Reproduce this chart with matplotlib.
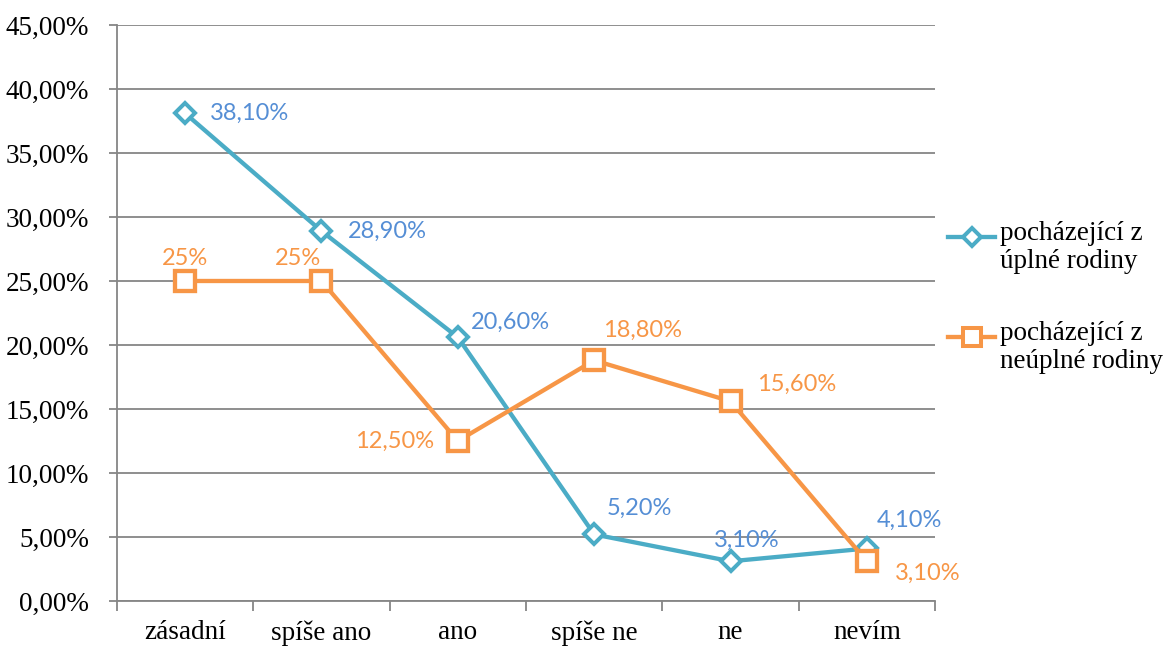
import matplotlib
matplotlib.use("Agg")
import matplotlib.pyplot as plt
from matplotlib.lines import Line2D
from matplotlib.ticker import FuncFormatter, MultipleLocator

categories = ["zásadní", "spíše ano", "ano", "spíše ne", "ne", "nevím"]
uplne = [38.1, 28.9, 20.6, 5.2, 3.1, 4.1]
neuplne = [25.0, 25.0, 12.5, 18.8, 15.6, 3.1]
uplne_labels = ["38,10%", "28,90%", "20,60%", "5,20%", "3,10%", "4,10%"]
neuplne_labels = ["25%", "25%", "12,50%", "18,80%", "15,60%", "3,10%"]
legend_labels = ["pocházející z\núplné rodiny", "pocházející z\nneúplné rodiny"]

blue = "#4BACC6"
orange = "#F79646"
blue_txt = "#558ED5"
grid_c = "#868686"

serif = "Liberation Serif"
sans = "Lato"

fig = plt.figure(figsize=(11.65, 6.46), dpi=100)
ax = fig.add_axes([0.1004, 0.0697, 0.7022, 0.8916])

x = list(range(len(categories)))
ax.plot(x, uplne, color=blue, lw=3.1, marker="D", ms=10, mfc="white",
        mec=blue, mew=2.9, zorder=3)
ax.plot(x, neuplne, color=orange, lw=3.1, marker="s", ms=14, mfc="white",
        mec=orange, mew=3.1, zorder=4)

ax.set_xlim(-0.5, 5.5)
ax.set_ylim(0, 45)
ax.yaxis.set_major_locator(MultipleLocator(5))
ax.yaxis.set_major_formatter(FuncFormatter(lambda v, p: f"{v:.2f}".replace(".", ",") + "%"))
ax.grid(axis="y", color=grid_c, lw=1.3)
ax.set_axisbelow(True)

ax.set_xticks([i - 0.5 for i in range(len(categories) + 1)])
ax.set_xticklabels([])
ax.set_xticks(x, minor=True)
ax.set_xticklabels(categories, minor=True, fontfamily=serif, fontsize=19.5)
ax.tick_params(axis="x", which="minor", length=0, pad=14)
ax.tick_params(axis="x", which="major", length=7, color=grid_c, width=1.3, direction="out")
ax.tick_params(axis="y", length=6, color=grid_c, width=1.3, pad=14)
for lab in ax.get_yticklabels():
    lab.set_fontfamily(serif)
    lab.set_fontsize(19.5)

for s in ["top", "right"]:
    ax.spines[s].set_visible(False)
for s in ["left", "bottom"]:
    ax.spines[s].set_color(grid_c)
    ax.spines[s].set_linewidth(1.3)

# data labels: offsets in points
blue_off = [(18, 0, "left"), (19, 0, "left"), (9.5, 11, "left"),
            (9, 19, "left"), (11.5, 15, "center"), (7, 20, "left")]
orange_off = [(0, 16.5, "center"), (-17, 16.5, "center"), (-17, 0, "right"),
              (6.5, 21.5, "left"), (19, 12, "left"), (20, -9, "left")]
for i in x:
    dx, dy, ha = blue_off[i]
    ax.annotate(uplne_labels[i], (i, uplne[i]), xytext=(dx, dy), textcoords="offset points",
                ha=ha, va="center", color=blue_txt, fontsize=17, fontfamily=sans, zorder=5)
    dx, dy, ha = orange_off[i]
    ax.annotate(neuplne_labels[i], (i, neuplne[i]), xytext=(dx, dy), textcoords="offset points",
                ha=ha, va="center", color=orange, fontsize=17, fontfamily=sans, zorder=5)

# legend drawn by hand so the marker lines up with the first text line
W, H = 1165, 646
for (ypx, col, mk, ms), lab in zip([(237, blue, "D", 9), (337, orange, "s", 13)], legend_labels):
    yf = 1 - ypx / H
    fig.add_artist(Line2D([948 / W, 995 / W], [yf, yf], color=col, lw=3.1,
                          transform=fig.transFigure))
    fig.add_artist(Line2D([971.5 / W], [yf], color=col, marker=mk, ms=ms, mfc="white",
                          mec=col, mew=2.9, transform=fig.transFigure))
    fig.text(1000 / W, yf + 16 / H, lab, fontfamily=serif, fontsize=19.5, va="top",
             ha="left", linespacing=1.15)

fig.savefig("out.png", dpi=100)
